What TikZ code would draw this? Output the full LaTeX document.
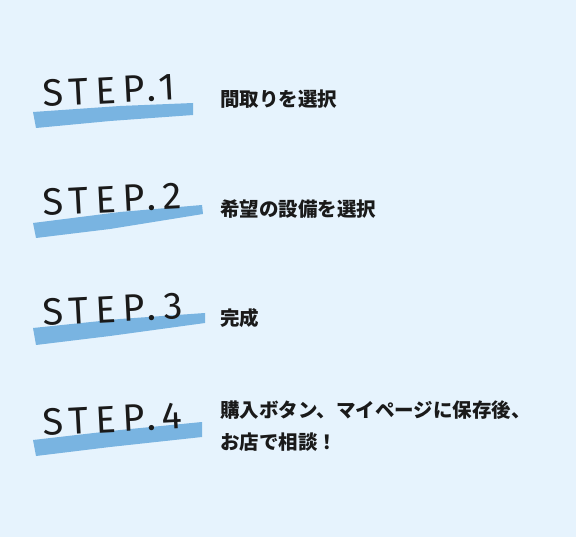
\documentclass[tikz,border=0pt]{standalone}
\usepackage{fontspec}
\usepackage{xcolor}
\newfontfamily\jpfont{Noto Sans CJK JP}
\newfontfamily\stepfont{Fira Sans}[LetterSpace=18]
\definecolor{bgblue}{HTML}{E6F3FD}
\definecolor{brushblue}{HTML}{79B4E1}
\definecolor{inkblack}{HTML}{1A1A1A}

\begin{document}
\begin{tikzpicture}[x=1pt,y=-1pt,
  brush/.style={fill=brushblue,draw=none},
  steplabel/.style={font=\stepfont\fontsize{38}{38}\selectfont,text=inkblack,
    anchor=base west,inner sep=0pt,rotate=3},
  desc/.style={font=\jpfont\bfseries\fontsize{19.5}{32}\selectfont,text=inkblack,
    anchor=west,inner sep=0pt,align=left}]
\fill [bgblue] (0,0) rectangle (576,537);
\useasboundingbox (0,0) rectangle (576,537);

%Step 1
\fill [brush] (33,112) -- (120,106) -- (193,103) -- (193,115) -- (110,121) -- (36,128) -- cycle;
\node [steplabel] (step1) at (43,107) {STEP.1};
\node [desc] (text1) at (220,99) {間取りを選択};

%Step 2
\fill [brush] (33,223) -- (120,212) -- (202,205) -- (203,214) -- (110,229) -- (36,238) -- cycle;
\node [steplabel] (step2) at (43,216) {STEP.2};
\node [desc] (text2) at (220,209) {希望の設備を選択};

%Step 3
\fill [brush] (33,328) -- (120,319) -- (205,313) -- (205,323) -- (110,336) -- (36,345) -- cycle;
\node [steplabel] (step3) at (43,326) {STEP.3};
\node [desc] (text3) at (220,318) {完成};

%Step 4
\fill [brush] (33,440) -- (120,430) -- (202,422) -- (202,437) -- (110,447) -- (36,456) -- cycle;
\node [steplabel] (step4) at (43,436) {STEP.4};
\node [desc] (text4) at (220,426) {購入ボタン、マイページに保存後、\\お店で相談！};
\end{tikzpicture}
\end{document}
